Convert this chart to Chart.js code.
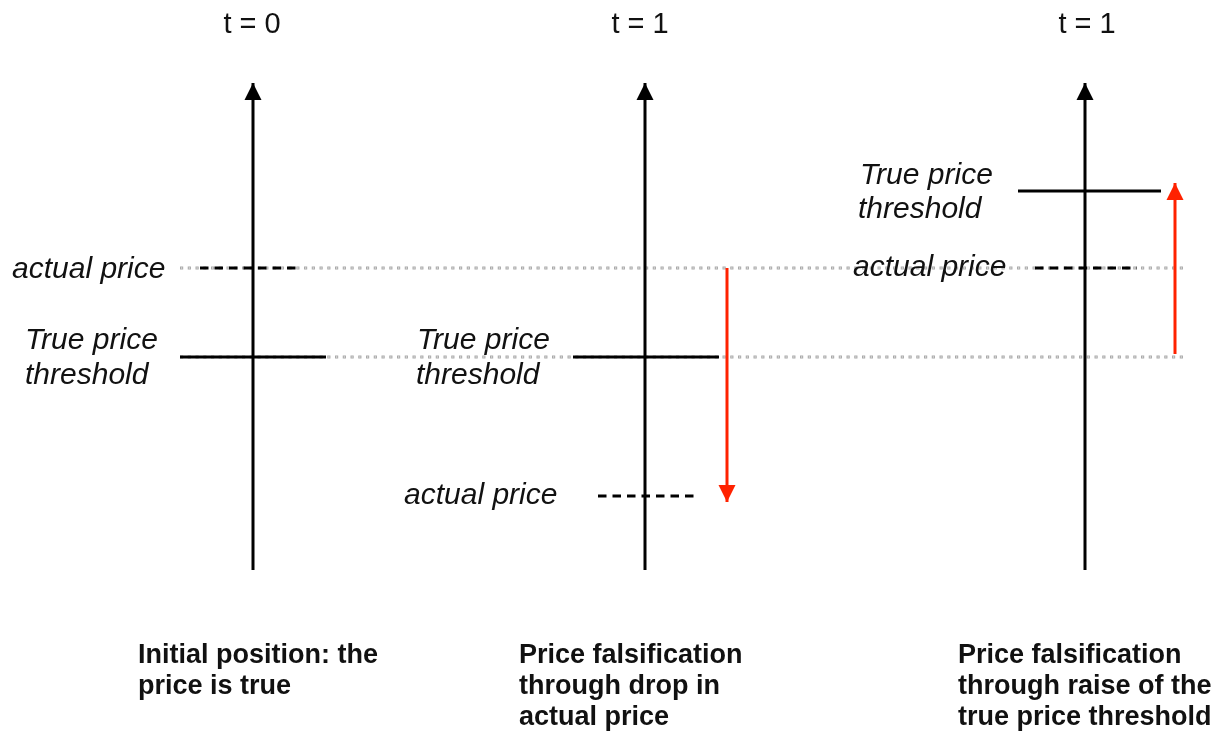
<!DOCTYPE html>
<html>
<head>
<meta charset="utf-8">
<script src="https://cdn.jsdelivr.net/npm/chart.js@4.4.0/dist/chart.umd.min.js"></script>
<style>
body { margin: 0; background: #fff; }
#wrap { width: 1223px; height: 731px; }
</style>
</head>
<body>
<div id="wrap"><canvas id="diagram"></canvas></div>
<script>
// levels are heights above the bottom edge
var panelTitles = ['t = 0', 't = 1', 't = 1'];
var axisX = [253, 645, 1085];
var axisBottom = 161;
var axisTop = 648;

var actualPrice = [463, 235, 463];
var thresholdPrice = [374, 374, 540];
var guideLevels = [463, 374];
var guideSpan = [180, 1183];
var actualSpan = [[200, 301], [598, 697], [1035, 1137]];
var thresholdSpan = [[180, 326], [573, 719], [1018, 1161]];

// red arrows: panel 2 (drop of actual price), panel 3 (raise of threshold)
var moveX = [727, 1175];
var moveFrom = [463, 377];
var moveTo = [229, 548];

var captions = [
	['Initial position: the', 'price is true'],
	['Price falsification', 'through drop in', 'actual price'],
	['Price falsification', 'through raise of the', 'true price threshold']
];
var labelTexts = ['actual price', 'True price', 'threshold'];

// where the text goes (layout only)
var titleLayout = { y: 706, x: [252, 640, 1087] };
var captionLayout = { x: [138, 519, 958], y: [75, 44, 13] };
var labelLayout = [
	{ t: 0, x: 12, y: 461 }, { t: 1, x: 25, y: 390 }, { t: 2, x: 25, y: 355 },
	{ t: 1, x: 417, y: 390 }, { t: 2, x: 416, y: 355 }, { t: 0, x: 404, y: 235 },
	{ t: 1, x: 860, y: 555 }, { t: 2, x: 858, y: 521 }, { t: 0, x: 853, y: 463 }
];

var FONT = '"Liberation Sans", Arial, Helvetica, sans-serif';

function seg(x1, x2, y1, y2) {
	return [{ x: x1, y: y1 }, { x: x2, y: y2 }];
}

var datasets = [];

// grey dotted guides (little hollow squares)
guideLevels.forEach(function(lv) {
	datasets.push({
		data: seg(guideSpan[0], guideSpan[1], lv, lv),
		borderColor: '#a9a9a9', borderWidth: 3.2, borderDash: [3.2, 4.55], order: 10
	});
	datasets.push({
		data: seg(guideSpan[0], guideSpan[1], lv, lv),
		borderColor: '#f2f2f2', borderWidth: 1.2, borderDash: [1.2, 6.55], borderDashOffset: -1, order: 9
	});
});

for (var i = 0; i < 3; i++) {
	// true price threshold
	datasets.push({
		data: seg(thresholdSpan[i][0], thresholdSpan[i][1], thresholdPrice[i], thresholdPrice[i]),
		borderColor: '#000', borderWidth: 3, order: 5
	});
	// actual price
	datasets.push({
		data: seg(actualSpan[i][0], actualSpan[i][1], actualPrice[i], actualPrice[i]),
		borderColor: '#000', borderWidth: 3, borderDash: [8.5, 6], order: 5
	});
	// vertical axis with arrow
	datasets.push({
		data: seg(axisX[i], axisX[i], axisBottom, axisTop),
		borderColor: '#000', borderWidth: 3, arrowHead: '#000', order: 4
	});
}

for (var j = 0; j < moveX.length; j++) {
	datasets.push({
		data: seg(moveX[j], moveX[j], moveFrom[j], moveTo[j]),
		borderColor: '#ff2200', borderWidth: 3, arrowHead: '#ff2200', order: 3
	});
}

var arrowPlugin = {
	id: 'arrowHeads',
	afterDatasetsDraw: function(chart) {
		var ctx = chart.ctx;
		chart.data.datasets.forEach(function(ds, k) {
			if (!ds.arrowHead) return;
			var pts = chart.getDatasetMeta(k).data;
			var a = pts[pts.length - 2], b = pts[pts.length - 1];
			var ang = Math.atan2(b.y - a.y, b.x - a.x);
			var len = 17, half = 8.5;
			ctx.save();
			ctx.fillStyle = ds.arrowHead;
			ctx.translate(b.x, b.y);
			ctx.rotate(ang);
			ctx.beginPath();
			ctx.moveTo(0, 0);
			ctx.lineTo(-len, -half);
			ctx.lineTo(-len, half);
			ctx.closePath();
			ctx.fill();
			ctx.restore();
		});
	}
};

var textPlugin = {
	id: 'diagramText',
	afterDraw: function(chart) {
		var ctx = chart.ctx, xs = chart.scales.x, ys = chart.scales.y;
		ctx.save();
		ctx.textBaseline = 'middle';
		ctx.fillStyle = '#111';

		ctx.font = '29px ' + FONT;
		ctx.textAlign = 'center';
		panelTitles.forEach(function(t, i) {
			ctx.fillText(t, xs.getPixelForValue(titleLayout.x[i]), ys.getPixelForValue(titleLayout.y));
		});

		ctx.textAlign = 'left';
		ctx.font = 'italic 30px ' + FONT;
		labelLayout.forEach(function(l) {
			ctx.fillText(labelTexts[l.t], xs.getPixelForValue(l.x), ys.getPixelForValue(l.y));
		});

		ctx.font = 'bold 27px ' + FONT;
		captions.forEach(function(lines, i) {
			lines.forEach(function(line, n) {
				ctx.fillText(line, xs.getPixelForValue(captionLayout.x[i]), ys.getPixelForValue(captionLayout.y[n]));
			});
		});
		ctx.restore();
	}
};

new Chart(document.getElementById('diagram'), {
	type: 'scatter',
	data: { datasets: datasets },
	options: {
		responsive: true,
		maintainAspectRatio: false,
		devicePixelRatio: 1,
		animation: false,
		layout: { padding: 0 },
		elements: {
			point: { radius: 0, hoverRadius: 0 },
			line: { tension: 0, borderCapStyle: 'butt' }
		},
		datasets: { scatter: { showLine: true, clip: false } },
		scales: {
			x: { type: 'linear', min: 0, max: 1223, display: false },
			y: { type: 'linear', min: 0, max: 731, display: false }
		},
		plugins: { legend: { display: false }, tooltip: { enabled: false } }
	},
	plugins: [arrowPlugin, textPlugin]
});
</script>
</body>
</html>
